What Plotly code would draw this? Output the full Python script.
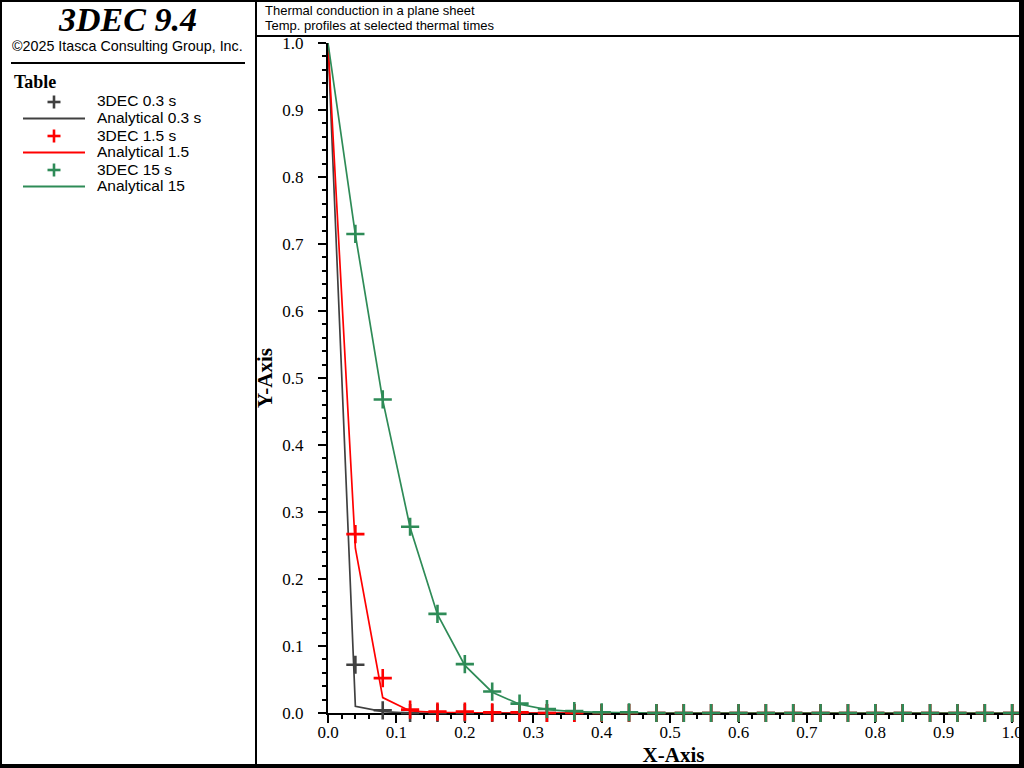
import plotly.graph_objects as go

# ---------------- data ----------------
x_analytical = [0.00, 0.04, 0.08, 0.12, 0.16, 0.20, 0.24, 0.28, 0.32, 0.36,
                0.40, 0.44, 0.48, 0.52, 0.56, 0.60, 0.64, 0.68, 0.72, 0.76,
                0.80, 0.84, 0.88, 0.92, 0.96, 1.00]
x_3dec = [0.04, 0.08, 0.12, 0.16, 0.20, 0.24, 0.28, 0.32, 0.36, 0.40,
          0.44, 0.48, 0.52, 0.56, 0.60, 0.64, 0.68, 0.72, 0.76, 0.80,
          0.84, 0.88, 0.92, 0.96, 1.00]

ana_03 = [1.000, 0.010, 0.002, 0.000, 0.000, 0.000, 0.000, 0.000, 0.000, 0.000,
          0.000, 0.000, 0.000, 0.000, 0.000, 0.000, 0.000, 0.000, 0.000, 0.000,
          0.000, 0.000, 0.000, 0.000, 0.000, 0.000]
dec_03 = [0.072, 0.004, 0.000, 0.000, 0.000, 0.000, 0.000, 0.000, 0.000, 0.000,
          0.000, 0.000, 0.000, 0.000, 0.000, 0.000, 0.000, 0.000, 0.000, 0.000,
          0.000, 0.000, 0.000, 0.000, 0.000]

ana_15 = [1.000, 0.246, 0.023, 0.003, 0.001, 0.000, 0.000, 0.000, 0.000, 0.000,
          0.000, 0.000, 0.000, 0.000, 0.000, 0.000, 0.000, 0.000, 0.000, 0.000,
          0.000, 0.000, 0.000, 0.000, 0.000, 0.000]
dec_15 = [0.267, 0.052, 0.005, 0.002, 0.002, 0.001, 0.001, 0.000, 0.000, 0.000,
          0.000, 0.000, 0.000, 0.000, 0.000, 0.000, 0.000, 0.000, 0.000, 0.000,
          0.000, 0.000, 0.000, 0.000, 0.000]

ana_150 = [1.000, 0.714, 0.467, 0.277, 0.147, 0.071, 0.031, 0.013, 0.005, 0.002,
           0.001, 0.000, 0.000, 0.000, 0.000, 0.000, 0.000, 0.000, 0.000, 0.000,
           0.000, 0.000, 0.000, 0.000, 0.000, 0.000]
dec_150 = [0.715, 0.468, 0.278, 0.148, 0.073, 0.032, 0.014, 0.006, 0.003, 0.001,
           0.001, 0.000, 0.000, 0.000, 0.000, 0.000, 0.000, 0.000, 0.000, 0.000,
           0.000, 0.000, 0.000, 0.000, 0.000]

series_names = ["3DEC 0.3 s", "Analytical 0.3 s", "3DEC 1.5 s",
                "Analytical 1.5", "3DEC 15 s", "Analytical 15"]
series_colors = ["#404040", "#404040", "#ff0000", "#ff0000", "#2e8b57", "#2e8b57"]

title_lines = ["Thermal conduction in a plane sheet",
               "Temp. profiles at selected thermal times"]
x_ticks = [0.0, 0.1, 0.2, 0.3, 0.4, 0.5, 0.6, 0.7, 0.8, 0.9, 1.0]
y_ticks = [0.0, 0.1, 0.2, 0.3, 0.4, 0.5, 0.6, 0.7, 0.8, 0.9, 1.0]

# ---------------- layout helpers ----------------
W, H = 1024, 768
SERIF = "Liberation Serif"
SANS = "Liberation Sans"


def px(x):
    return x / W


def py(y):
    return 1 - y / H


fig = go.Figure()

pairs = [
    (x_3dec, dec_03, x_analytical, ana_03),
    (x_3dec, dec_15, x_analytical, ana_15),
    (x_3dec, dec_150, x_analytical, ana_150),
]
for i, (xd, yd, xa, ya) in enumerate(pairs):
    fig.add_trace(go.Scatter(
        x=xd, y=yd, mode="markers", name=series_names[2 * i],
        marker=dict(symbol="cross-thin", size=13, color=series_colors[2 * i],
                    line=dict(width=2.6, color=series_colors[2 * i])),
        cliponaxis=False, showlegend=False))
    fig.add_trace(go.Scatter(
        x=xa, y=ya, mode="lines", name=series_names[2 * i + 1],
        line=dict(color=series_colors[2 * i + 1], width=1.7),
        showlegend=False))

shapes = []
annotations = []


def hline(y, x0, x1, w=2):
    shapes.append(dict(type="line", xref="paper", yref="paper",
                       x0=px(x0), x1=px(x1), y0=py(y), y1=py(y),
                       line=dict(color="black", width=w), layer="above"))


def rect(x0, y0, x1, y1, fill):
    shapes.append(dict(type="rect", xref="paper", yref="paper",
                       x0=px(x0), x1=px(x1), y0=py(y0), y1=py(y1),
                       line=dict(width=0), fillcolor=fill, layer="above"))


# frame
rect(0, 0, 2, 768, "black")
rect(0, 0, 1024, 2, "black")
rect(1019, 0, 1024, 768, "black")
rect(0, 764, 1024, 768, "black")
rect(255, 0, 257, 766, "black")
hline(36, 256, 1020)
hline(63, 11, 245)

# left panel text
annotations.append(dict(text="<b><i>3DEC 9.4</i></b>", x=px(127), y=py(19),
                        xref="paper", yref="paper", showarrow=False,
                        xanchor="center", yanchor="middle",
                        font=dict(family=SERIF, size=34, color="black")))
annotations.append(dict(text="©2025 Itasca Consulting Group, Inc.", x=px(127), y=py(46),
                        xref="paper", yref="paper", showarrow=False,
                        xanchor="center", yanchor="middle",
                        font=dict(family=SANS, size=14.3, color="black")))
annotations.append(dict(text="<b>Table</b>", x=px(12), y=py(82),
                        xref="paper", yref="paper", showarrow=False,
                        xanchor="left", yanchor="middle",
                        font=dict(family=SERIF, size=18, color="black")))

# legend entries (key glyphs + labels)
legend_y = [102, 118.5, 136, 152.5, 170, 186.5]
for k, name in enumerate(series_names):
    yk = legend_y[k]
    col = series_colors[k]
    if k % 2 == 0:
        shapes.append(dict(type="line", xref="paper", yref="paper",
                           x0=px(47.5), x1=px(60.5), y0=py(yk), y1=py(yk),
                           line=dict(color=col, width=2.6)))
        shapes.append(dict(type="line", xref="paper", yref="paper",
                           x0=px(54), x1=px(54), y0=py(yk - 6.5), y1=py(yk + 6.5),
                           line=dict(color=col, width=2.6)))
    else:
        shapes.append(dict(type="line", xref="paper", yref="paper",
                           x0=px(23), x1=px(85), y0=py(yk), y1=py(yk),
                           line=dict(color=col, width=2.2)))
    annotations.append(dict(text=name, x=px(95), y=py(yk - 1),
                            xref="paper", yref="paper", showarrow=False,
                            xanchor="left", yanchor="middle",
                            font=dict(family=SANS, size=15.5, color="black")))

# header text
for k, t in enumerate(title_lines):
    annotations.append(dict(text=t, x=px(263), y=py(11 + 14 * k),
                            xref="paper", yref="paper", showarrow=False,
                            xanchor="left", yanchor="middle",
                            font=dict(family=SANS, size=13, color="black")))

axis_common = dict(
    showgrid=False, zeroline=False, showline=True, linecolor="black", linewidth=2,
    ticks="outside", ticklen=8, tickwidth=2, tickcolor="black",
    tickformat=".1f", tickfont=dict(family=SERIF, size=17, color="black"),
    minor=dict(ticks="outside", ticklen=4, tickwidth=1.5, tickcolor="black", dtick=0.02),
    layer="below traces", automargin=False,
)

fig.update_layout(
    width=W, height=H, autosize=False,
    margin=dict(l=0, r=0, t=0, b=0, pad=0, autoexpand=False),
    paper_bgcolor="white", plot_bgcolor="white",
    showlegend=False,
    xaxis=dict(domain=[px(328), px(1019)], range=[0, 1.01],
               tickvals=x_ticks, ticklabelstandoff=-5,
               title=dict(text="<b>X-Axis</b>", font=dict(family=SERIF, size=21, color="black"),
                          standoff=6),
               **axis_common),
    yaxis=dict(domain=[py(713), py(43)], range=[0, 1.0],
               tickvals=y_ticks, ticklabelstandoff=11,
               title=dict(text="<b>Y-Axis</b>", font=dict(family=SERIF, size=21, color="black"),
                          standoff=4),
               **axis_common),
    shapes=shapes,
    annotations=annotations,
)

fig.write_html(
    "out.html",
    config={"responsive": False, "displayModeBar": False},
    post_script="document.body.style.margin='0';document.body.style.overflow='hidden';",
)
